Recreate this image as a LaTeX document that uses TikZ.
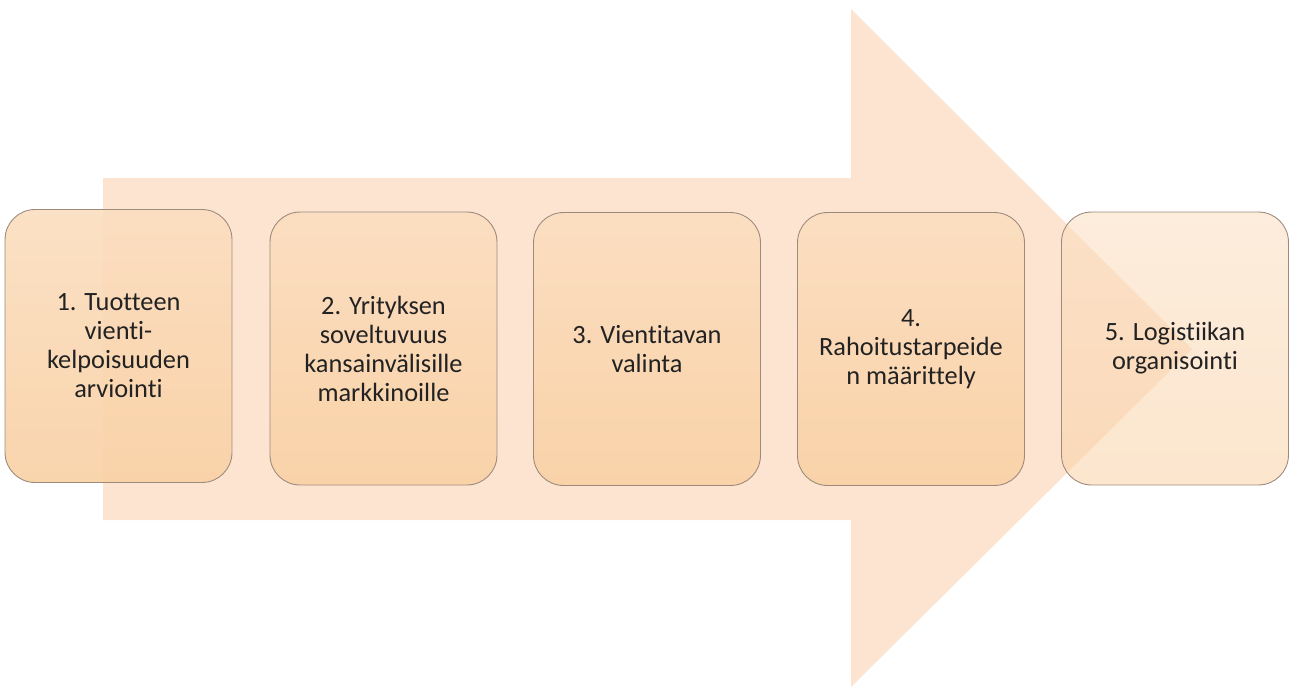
\documentclass[tikz,border=0pt]{standalone}
\usepackage{fontspec}
\setmainfont{Carlito}[Ligatures=NoCommon]
\usepackage{xcolor}
\usepackage{tikz}

\definecolor{arrowfill}{HTML}{FDE4D1}
\definecolor{boxtop}{HTML}{FBDEC0}
\definecolor{boxbottom}{HTML}{F9D1A5}
\definecolor{boxline}{HTML}{9C8A7C}
\definecolor{textgray}{HTML}{222222}

\tikzset{
  stagebox/.style={draw=boxline, line width=0.5pt, rounded corners=0.6cm,
    top color=boxtop, bottom color=boxbottom, fill opacity=0.92,
    text opacity=1, minimum width=4.54cm, minimum height=5.46cm,
    align=center, text=textgray,
    font=\fontsize{15}{16.5}\selectfont},
  lastbox/.style={stagebox, fill opacity=0.55}
}

\begin{document}
\begin{tikzpicture}[x=0.02cm,y=-0.02cm]
\useasboundingbox (0,0) rectangle (1289,687);
% big arrow behind the stages
\fill[arrowfill] (103,178) -- (851,178) -- (851,9) -- (1192,349) -- (851,687)
  -- (851,520) -- (103,520) -- cycle;
% stages
\node[stagebox] (tuote) at (118.5,346) {1. Tuotteen\\vienti-\\kelpoisuuden\\arviointi};
\node[stagebox] (yritys) at (383.5,348.5) {2. Yrityksen\\soveltuvuus\\kansainvälisille\\markkinoille};
\node[stagebox] (vientitapa) at (647,349) {3. Vientitavan\\valinta};
\node[stagebox] (rahoitus) at (911,349) {4.\\Rahoitustarpeide\\n määrittely};
\node[lastbox] (logistiikka) at (1175,348.5) {5. Logistiikan\\organisointi};
\end{tikzpicture}
\end{document}
